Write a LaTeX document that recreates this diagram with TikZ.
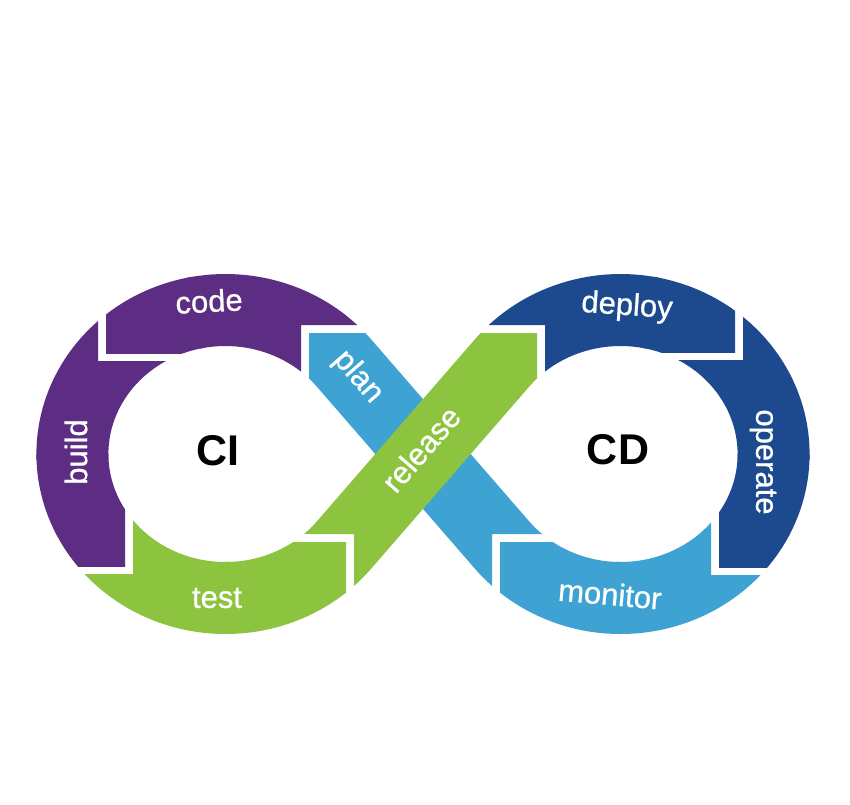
\documentclass[tikz,border=0pt]{standalone}
\usepackage{fontspec}
\setmainfont{Liberation Sans}
\newfontfamily\labfont{Liberation Sans}[FakeBold=0.8]
\definecolor{cipurple}{RGB}{92,45,130}
\definecolor{cigreen}{RGB}{141,196,63}
\definecolor{cdlight}{RGB}{62,163,211}
\definecolor{cddark}{RGB}{29,74,142}
\tikzset{
  band/.style={line width=72pt, line cap=butt, line join=round},
  ell/.style={x radius=153, y radius=144},
  lab/.style={text=white, font=\labfont\fontsize{31}{31}\selectfont, inner sep=0pt},
  big/.style={text=black, font=\bfseries\fontsize{43}{43}\selectfont, inner sep=0pt}
}
\begin{document}
\begin{tikzpicture}[x=1pt,y=-1pt]
\fill[white] (0,0) rectangle (850,804);
\useasboundingbox (0,0) rectangle (850,804);

% plan
\begin{scope}
\clip (492,534) -- (792,534) -- (792,234) -- (192,234) -- (192,834) -- (492,834) -- cycle;
\draw[band,cdlight] (526.4,567.47) arc[start angle=128,end angle=140.73,ell] -- (421.7,452.5);
\end{scope}
\begin{scope}
\clip (309,333) rectangle (709,733);
\draw[band,cdlight] (423,454) -- (343.85,362.86) arc[start angle=-39.27,end angle=-75,ell];
\end{scope}

% code
\begin{scope}
\clip (301,325) -- (601,325) -- (601,25) -- (1,25) -- (1,625) -- (301,625) -- cycle;
\draw[band,cipurple] (357.4,378.5) -- (343.85,362.86) arc[start angle=-39.27,end angle=-102,ell];
\end{scope}
\begin{scope}
\clip (106,353) rectangle (506,-47);
\draw[band,cipurple] (198.83,312.19) arc[start angle=-100,end angle=-150,ell];
\end{scope}

% build
\begin{scope}
\clip (98,361) -- (398,361) -- (398,661) -- (-202,661) -- (-202,61) -- (98,61) -- cycle;
\draw[band,cipurple] (160.74,323.49) arc[start angle=-115,end angle=-182,ell];
\end{scope}
\begin{scope}
\clip (125,566) rectangle (-275,166);
\draw[band,cipurple] (72.4,454) arc[start angle=-180,end angle=-245,ell];
\end{scope}

% test
\begin{scope}
\clip (133,574) -- (-167,574) -- (-167,874) -- (433,874) -- (433,274) -- (133,274) -- cycle;
\draw[band,cigreen] (95.66,530.3) arc[start angle=-212,end angle=-272,ell];
\end{scope}
\begin{scope}
\clip (346,542) rectangle (-54,942);
\draw[band,cigreen] (225.4,598) arc[start angle=-270,end angle=-320.73,ell] -- (357.4,529.5);
\end{scope}

% release
\begin{scope}
\clip (354,534) -- (54,534) -- (54,234) -- (654,234) -- (654,834) -- (354,834) -- cycle;
\draw[band,cigreen] (311.0,573.4) arc[start angle=56,end angle=39.27,ell] -- (424.3,452.5);
\end{scope}
\begin{scope}
\clip (537,333) rectangle (137,733);
\draw[band,cigreen] (423,454) -- (502.15,362.86) arc[start angle=-140.73,end angle=-105,ell];
\end{scope}

% deploy
\begin{scope}
\clip (545,325) -- (245,325) -- (245,25) -- (845,25) -- (845,625) -- (545,625) -- cycle;
\draw[band,cddark] (488.6,378.5) -- (502.15,362.86) arc[start angle=-140.73,end angle=-78,ell];
\end{scope}
\begin{scope}
\clip (735,352) rectangle (335,-48);
\draw[band,cddark] (647.17,312.19) arc[start angle=-80,end angle=-30,ell];
\end{scope}

% operate
\begin{scope}
\clip (743,360) -- (443,360) -- (443,660) -- (1043,660) -- (1043,60) -- (743,60) -- cycle;
\draw[band,cddark] (677.9,320.5) arc[start angle=-68,end angle=2,ell];
\end{scope}
\begin{scope}
\clip (719,567) rectangle (1119,167);
\draw[band,cddark] (773.6,454) arc[start angle=0,end angle=70,ell];
\end{scope}

% monitor
\begin{scope}
\clip (711,575) -- (1011,575) -- (1011,875) -- (411,875) -- (411,275) -- (711,275) -- cycle;
\draw[band,cdlight] (750.34,530.3) arc[start angle=32,end angle=92,ell];
\end{scope}
\begin{scope}
\clip (500,542) rectangle (900,942);
\draw[band,cdlight] (620.6,598) arc[start angle=90,end angle=140.73,ell] -- (488.6,529.5);
\end{scope}

% labels
\node[lab, rotate=3] (tcode) at (209,301) {code};
\node[lab, rotate=90] (tbuild) at (76,452) {build};
\node[lab] (ttest) at (217,598) {test};
\node[lab, rotate=-49] (tplan) at (358,377) {plan};
\node[lab, rotate=49] (trelease) at (421,449) {release};
\node[lab, rotate=-4] (tdeploy) at (627,307) {deploy};
\node[lab, rotate=-90] (toperate) at (763,462) {operate};
\node[lab, rotate=-5] (tmonitor) at (610,594) {monitor};
\node[big] (ci) at (218,451) {CI};
\node[big] (cd) at (618,450) {CD};
\end{tikzpicture}
\end{document}
